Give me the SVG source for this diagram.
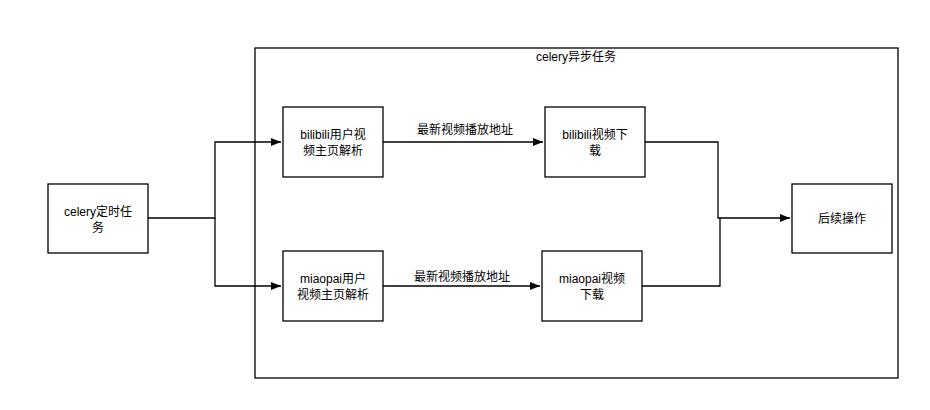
<svg xmlns="http://www.w3.org/2000/svg" width="930" height="410" viewBox="0 0 930 410">
<style>
.b{fill:#fff;stroke:#000;stroke-width:1.3}
.t{font-family:"Liberation Sans","Noto Sans CJK SC",sans-serif;font-size:12px;fill:#000;text-anchor:middle}
.c{fill:none;stroke:#000;stroke-width:1.3}
</style>
<defs><marker id="a" viewBox="0 0 10 10" refX="10" refY="5" markerWidth="10" markerHeight="10" markerUnits="userSpaceOnUse" orient="auto"><path d="M0,1 L10,5 L0,9 Z" fill="#000"/></marker></defs>
<rect width="930" height="410" fill="#fff"/>
<g id="container"><rect class="b" x="255" y="48" width="643" height="330"/><text class="t" x="576" y="61">celery异步任务</text></g>
<g id="n1"><rect class="b" x="48" y="184" width="100" height="69"/><text class="t" x="98" y="216">celery定时任</text><text class="t" x="98" y="232">务</text></g>
<g id="n2"><rect class="b" x="283" y="107" width="100" height="70"/><text class="t" x="333" y="139">bilibili用户视</text><text class="t" x="333" y="155">频主页解析</text></g>
<g id="n3"><rect class="b" x="283" y="251" width="100" height="70"/><text class="t" x="333" y="283">miaopai用户</text><text class="t" x="333" y="299">视频主页解析</text></g>
<g id="n4"><rect class="b" x="545" y="107" width="100" height="70"/><text class="t" x="595" y="139">bilibili视频下</text><text class="t" x="595" y="155">载</text></g>
<g id="n5"><rect class="b" x="542" y="251" width="100" height="70"/><text class="t" x="592" y="283">miaopai视频</text><text class="t" x="592" y="299">下载</text></g>
<g id="n6"><rect class="b" x="792" y="184" width="100" height="69"/><text class="t" x="842" y="223">后续操作</text></g>
<g id="connectors">
<path class="c" d="M148,218 H215 V142 H281" marker-end="url(#a)"/>
<path class="c" d="M215,218 V286 H281" marker-end="url(#a)"/>
<path class="c" d="M383,142 H543" marker-end="url(#a)"/>
<path class="c" d="M383,286 H540" marker-end="url(#a)"/>
<path class="c" d="M645,142 H718 V218 H790" marker-end="url(#a)"/>
<path class="c" d="M642,286 H720 V218"/>
<text class="t" x="465" y="134">最新视频播放地址</text>
<text class="t" x="462" y="281">最新视频播放地址</text>
</g>
</svg>
